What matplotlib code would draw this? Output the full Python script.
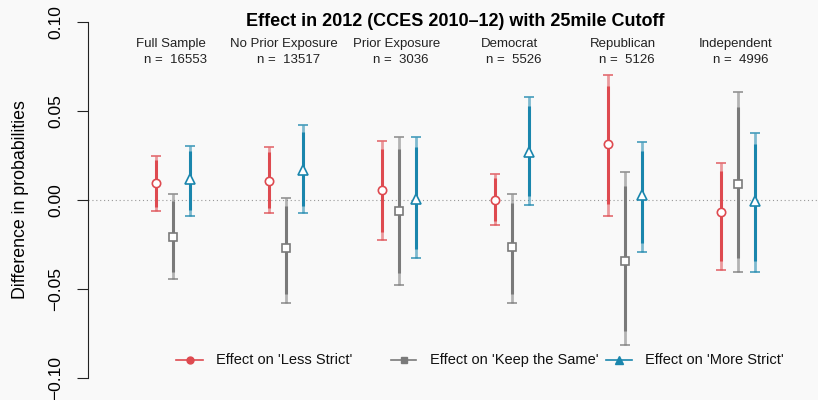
import numpy as np
import matplotlib
matplotlib.use('Agg')
import matplotlib.pyplot as plt
from matplotlib.lines import Line2D

plt.rcParams['font.family'] = ['Liberation Sans', 'DejaVu Sans']

groups = ['Full Sample', 'No Prior Exposure', 'Prior Exposure', 'Democrat', 'Republican', 'Independent']
ns = [16553, 13517, 3036, 5526, 5126, 4996]

# point estimates and 95% bounds
less_est = [0.0096, 0.0108, 0.0056, 0.0000, 0.0316, -0.0069]
less_lo = [-0.0062, -0.0073, -0.0225, -0.0140, -0.0090, -0.0395]
less_hi = [0.0249, 0.0300, 0.0333, 0.0144, 0.0704, 0.0210]

keep_est = [-0.0206, -0.0272, -0.0060, -0.0262, -0.0341, 0.0088]
keep_lo = [-0.0444, -0.0580, -0.0478, -0.0580, -0.0815, -0.0403]
keep_hi = [0.0034, 0.0010, 0.0354, 0.0032, 0.0159, 0.0605]

more_est = [0.0118, 0.0170, 0.0005, 0.0271, 0.0028, -0.0006]
more_lo = [-0.0088, -0.0075, -0.0328, -0.0028, -0.0294, -0.0406]
more_hi = [0.0305, 0.0420, 0.0354, 0.0579, 0.0326, 0.0378]

labels = ["Effect on 'Less Strict'", "Effect on 'Keep the Same'", "Effect on 'More Strict'"]

red = '#DE4A50'
grey = '#7A7A7A'
blue = '#1A86AD'
bg = '#F9F9F9'

W, H = 818, 400
fig = plt.figure(figsize=(W/100, H/100), dpi=100, facecolor=bg)
ax = fig.add_axes([88/W, 0, 730/W, 1], facecolor=bg)

x = np.arange(1, len(groups)+1)
ratio = 1.645/1.96

series = [(less_est, less_lo, less_hi, red, 'o', -0.15),
          (keep_est, keep_lo, keep_hi, grey, 's', 0.0),
          (more_est, more_lo, more_hi, blue, '^', 0.15)]

for est, lo, hi, col, mk, off in series:
    est = np.array(est); lo = np.array(lo); hi = np.array(hi)
    xs = x + off
    # outer (95%) light line with caps
    ax.vlines(xs, lo, hi, color=col, alpha=0.55, lw=2.0, zorder=2)
    ax.hlines(lo, xs-0.045, xs+0.045, color=col, alpha=0.75, lw=1.3, zorder=2)
    ax.hlines(hi, xs-0.045, xs+0.045, color=col, alpha=0.75, lw=1.3, zorder=2)
    # inner (90%) solid line
    ax.vlines(xs, est-(est-lo)*ratio, est+(hi-est)*ratio, color=col, lw=2.2, zorder=3)
    ax.plot(xs, est, ls='none', marker=mk, ms=7.5 if mk == '^' else 6, mfc='white', mec=col, mew=1.2, zorder=4)

ax.axhline(0, color='#999999', lw=0.8, ls=(0, (1, 2.5)), zorder=1)

for i, g in enumerate(groups):
    ax.text(x[i]-0.02, 0.0877, g, ha='center', va='center', fontsize=9.5, color='#222222')
    ax.text(x[i]+0.02, 0.0787, 'n =  %d' % ns[i], ha='center', va='center', fontsize=9.5, color='#222222')

fig.text(455/W, 1-21/H, 'Effect in 2012 (CCES 2010\u201312) with 25mile Cutoff',
         ha='center', va='center', fontsize=13, fontweight='bold')

ax.set_xlim(0.248, 6.708)
ax.set_ylim(-0.1124, 0.1124)
for s in ['top', 'right', 'bottom']:
    ax.spines[s].set_visible(False)
ax.spines['left'].set_bounds(-0.1, 0.1)
ax.spines['left'].set_color('#222222')
ax.set_xticks([])
ax.set_yticks([-0.1, -0.05, 0, 0.05, 0.1])
ax.set_yticklabels(['\u22120.10', '\u22120.05', '0.00', '0.05', '0.10'], rotation=90, va='center', fontsize=12.5)
ax.tick_params(axis='y', length=8, pad=10, color='#222222')
ax.set_ylabel('Difference in probabilities', fontsize=12.8, labelpad=14)

# legend drawn by hand (R-style uneven spacing)
leg_y = 1 - 360/H
leg_items = [(176, 203, 216, red, 'o', 5),
             (391, 416, 430, grey, 's', 5),
             (606, 632, 645, blue, '^', 6)]
for (x0, x1, tx, col, mk, ms), lab in zip(leg_items, labels):
    fig.add_artist(Line2D([x0/W, x1/W], [leg_y, leg_y], color=col, lw=1.2, transform=fig.transFigure))
    fig.add_artist(Line2D([(x0+x1)/2/W], [leg_y], color=col, marker=mk, ms=ms, ls='none', transform=fig.transFigure))
    fig.text(tx/W, leg_y, lab, ha='left', va='center', fontsize=10.5, color='#111111')

fig.savefig('out.png', dpi=100, facecolor=bg)
